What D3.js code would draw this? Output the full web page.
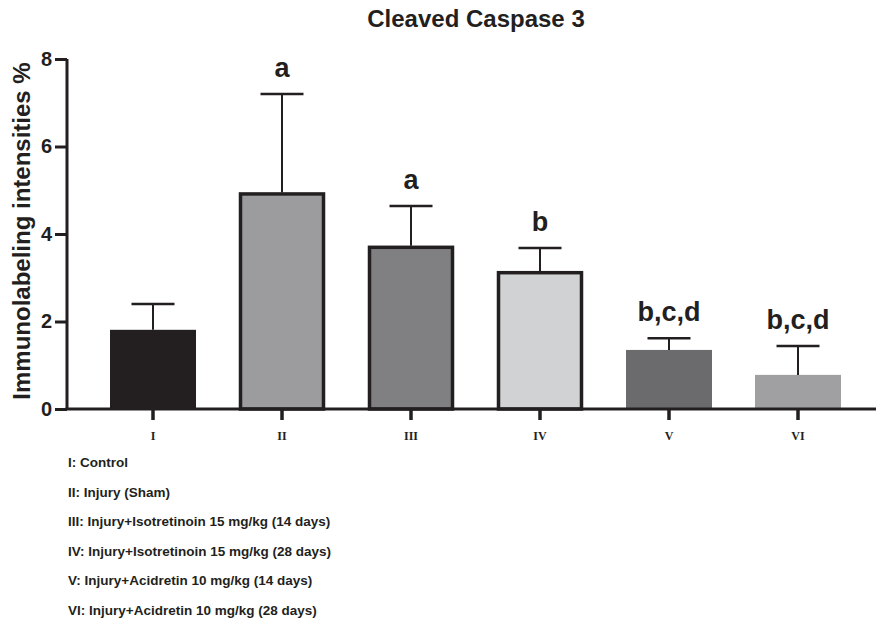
<!DOCTYPE html>
<html><head><meta charset="utf-8">
<script src="https://cdn.jsdelivr.net/npm/d3@7"></script>
<style>body{margin:0;background:#fff}svg{display:block}</style>
</head><body>
<svg id="c" width="876" height="624"></svg>
<script>
const categories = ["I","II","III","IV","V","VI"];
const means = [1.81, 4.95, 3.73, 3.15, 1.35, 0.78];
const errTops = [2.40, 7.20, 4.64, 3.68, 1.62, 1.44];
const sigLabels = ["", "a", "a", "b", "b,c,d", "b,c,d"];
const fills = ["#231f20", "#9c9c9f", "#808083", "#d1d2d4", "#6b6b6d", "#a0a0a3"];
const outlined = [false, true, true, true, false, false];
const yTicks = [0, 2, 4, 6, 8];
const legendLines = [
  "I: Control",
  "II: Injury (Sham)",
  "III: Injury+Isotretinoin 15 mg/kg (14 days)",
  "IV: Injury+Isotretinoin 15 mg/kg (28 days)",
  "V: Injury+Acidretin 10 mg/kg (14 days)",
  "VI: Injury+Acidretin 10 mg/kg (28 days)"
];
const title = "Cleaved Caspase 3";
const yTitle = "Immunolabeling intensities %";

const svg = d3.select("#c");
const ink = "#231f20";
const font = "Liberation Sans, Arial, sans-serif";
const y = d3.scaleLinear().domain([0, 8]).range([409, 59]);
const x = d3.scaleBand().domain(categories).range([88.5, 862.5]).paddingInner(1/3).paddingOuter(1/6);

// title
svg.append("text").attr("x", 476).attr("y", 27).attr("text-anchor", "middle")
  .attr("font-family", font).attr("font-weight", "bold")
  .attr("font-size", 24).attr("fill", ink).text(title);

// bars
const g = svg.append("g");
categories.forEach((c, i) => {
  const bx = x(c), bw = x.bandwidth();
  if (outlined[i]) {
    g.append("rect").attr("x", bx + 1.5).attr("y", y(means[i]) + 1.5)
      .attr("width", bw - 3).attr("height", y(0) - y(means[i]) - 1.5)
      .attr("fill", fills[i]).attr("stroke", ink).attr("stroke-width", 3.5);
  } else {
    g.append("rect").attr("x", bx).attr("y", y(means[i]))
      .attr("width", bw).attr("height", y(0) - y(means[i]))
      .attr("fill", fills[i]);
  }
  const cx = bx + bw / 2;
  g.append("line").attr("x1", cx).attr("x2", cx).attr("y1", y(means[i])).attr("y2", y(errTops[i]))
    .attr("stroke", ink).attr("stroke-width", 2);
  g.append("line").attr("x1", cx - 21.5).attr("x2", cx + 21.5).attr("y1", y(errTops[i])).attr("y2", y(errTops[i]))
    .attr("stroke", ink).attr("stroke-width", 2.5);
  if (sigLabels[i]) {
    g.append("text").attr("x", cx).attr("y", y(errTops[i]) - 17).attr("text-anchor", "middle")
      .attr("font-family", font).attr("font-weight", "bold")
      .attr("font-size", 27).attr("fill", ink).text(sigLabels[i]);
  }
});

// y axis
const yAxis = svg.append("g").attr("transform", "translate(67,0)")
  .call(d3.axisLeft(y).tickValues(yTicks).tickSize(12).tickPadding(3).tickFormat(d3.format("d")));
yAxis.select(".domain").attr("d", `M0,${y(8)}V${y(0)}`).attr("stroke", ink).attr("stroke-width", 3);
yAxis.selectAll(".tick line").attr("stroke", ink).attr("stroke-width", 3);
yAxis.selectAll(".tick text").attr("font-family", font)
  .attr("font-weight", "bold").attr("font-size", 20).attr("fill", ink);

// x axis
const xAxis = svg.append("g").attr("transform", `translate(0,${y(0)})`)
  .call(d3.axisBottom(x).tickSize(11).tickPadding(11));
xAxis.select(".domain").attr("d", `M65.5,0H876`).attr("stroke", ink).attr("stroke-width", 3);
xAxis.selectAll(".tick line").attr("stroke", ink).attr("stroke-width", 3.5);
xAxis.selectAll(".tick text").attr("font-family", "Liberation Serif, Times New Roman, serif")
  .attr("font-weight", "bold").attr("font-size", 12).attr("fill", ink);

// y title
svg.append("text").attr("transform", "translate(30,231) rotate(-90)").attr("text-anchor", "middle")
  .attr("font-family", font).attr("font-weight", "bold")
  .attr("font-size", 24).attr("fill", ink).text(yTitle);

// legend
svg.append("g").selectAll("text").data(legendLines).join("text")
  .attr("x", 68).attr("y", (d, i) => 467 + i * 29.5)
  .attr("font-family", font).attr("font-weight", "bold")
  .attr("font-size", 13.5).attr("fill", ink).text(d => d);
</script>
</body></html>
